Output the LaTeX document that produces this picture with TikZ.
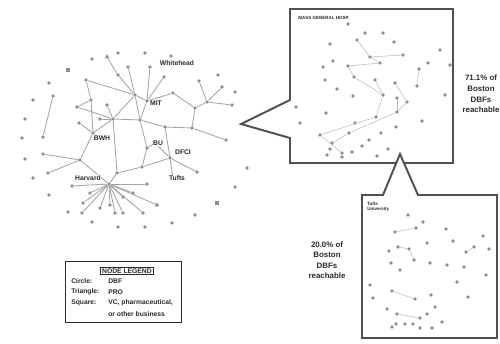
\documentclass[tikz,border=0pt]{standalone}
\usepackage{fontspec}
\setmainfont{Liberation Sans}
\usetikzlibrary{shapes.geometric}
\definecolor{ng}{HTML}{8e8e8e}
\definecolor{eg}{HTML}{a4a4a4}
\definecolor{ki}{HTML}{2a2a2a}
\definecolor{kb}{HTML}{505050}

\tikzset{
  dbf/.style={circle,fill=ng,inner sep=0pt,minimum size=2.8pt},
  pro/.style={regular polygon,regular polygon sides=3,fill=ng,inner sep=0pt,minimum size=3.8pt},
  biz/.style={rectangle,fill=ng,inner sep=0pt,minimum size=2.6pt},
  tie/.style={eg,line width=0.6pt},
  faint/.style={eg!80,line width=0.35pt},
  orglabel/.style={fill=white,inner sep=0.4pt,text=ki,font=\bfseries\fontsize{4.8}{5}\selectfont},
  boxlabel/.style={text=ki,font=\bfseries\fontsize{3.2}{3.8}\selectfont,align=left,anchor=north west,inner sep=0pt},
  reach/.style={text=ki,font=\bfseries\fontsize{5.6}{7.5}\selectfont,align=center},
  legtext/.style={text=ki,font=\bfseries\fontsize{4.8}{6}\selectfont,anchor=west,inner sep=0pt},
  callout/.style={kb,line width=1.4pt,fill=white,line join=miter}
}

\begin{document}
\begin{tikzpicture}[x=0.025cm,y=-0.025cm]
  \fill[white] (0,0) rectangle (500,343);
  \useasboundingbox (0,0) rectangle (500,343);

  % Whole Boston network: hubs and their neighbours
  \foreach \n/\x/\y in {ha/109/184,hb/135/95,hc/147/101,hd/113/119,he/93/133,hf/80/160,
      hg/117/173,hh/155/143,hi/170/158,hj/142/167,hk/147/148,hl/140/120,hm/165/127,
      hn/173/93,ho/195/108,hp/192/128,hq/207/102,hr/226/140,hs/197/172,ht/53/96,
      hu/43/154,hv/48/173,hw/77/107,hx/173/178,
      a1/90/193,a2/83/203,a3/82/213,a4/100/208,a5/110/205,a6/115/213,a7/123/213,
      a8/123/197,a9/133/193,a10/147/184,a11/72/186,a12/143/213,
      c1/128/67,c2/150/67,c3/118/75,c4/164/77,c5/86/80,
      q1/199/81,q2/222/87,q3/232/105,w1/91/100,w2/79/123,w3/100/119,w4/107/105,t2/43/137}
    \node[dbf] (\n) at (\x,\y) {};

  % a few organisations of other kinds
  \node[pro] (hpro1) at (157,205) {};
  \node[pro] (hpro2) at (107,57) {};
  \node[biz] (hbiz1) at (217,203) {};
  \node[biz] (hbiz2) at (68,70) {};

  % Isolated nodes round the rim
  \foreach \x/\y [count=\i] in {118/53,145/53,92/59,171/56,49/83,33/100,25/119,22/138,
      25/159,33/178,49/195,68/212,92/222,118/227,145/227,172/223,195/215,235/187,
      247/168,235/92,218/75}
    \node[dbf] (iso\i) at (\x,\y) {};

  % Ties
  \foreach \s in {a1,a2,a3,a4,a5,a6,a7,a8,a9,a10,a11,a12,hf,hg,hpro1}
    \draw[tie] (ha) -- (\s);
  \foreach \s/\t in {hb/c1,hb/c3,hb/c5,hb/hc,hb/hd,hb/hl,hc/c2,hc/c4,hc/hl,hc/hn,
      hd/w4,hd/w3,hd/hg,hd/he,hd/hl,hd/hw,he/w2,he/hf,he/w1,hf/hv,hf/hu,hg/hj,hj/hk,
      hj/hi,hl/hk,hk/hh,hh/hi,hi/hm,hm/hl,hi/hx,hi/hs,hn/ho,ho/hp,ho/hq,hq/q1,hq/q2,
      hq/q3,hp/hr,hp/hm,ht/t2,hw/w1,c3/hpro2,c5/w1}
    \draw[tie] (\s) -- (\t);

  % Names of the main hubs
  \node[orglabel] (lwhite) at (177,63) {Whitehead};
  \node[orglabel] (lmit) at (156,103) {MIT};
  \node[orglabel] (lbwh) at (102,138) {BWH};
  \node[orglabel] (lbu) at (158,143) {BU};
  \node[orglabel] (ldfci) at (183,152) {DFCI};
  \node[orglabel] (lharv) at (88,178) {Harvard};
  \node[orglabel] (ltufts) at (177,178) {Tufts};

  % Callout 1: the hospital's reach
  \draw[callout] (290,9) -- (453,9) -- (453,163) -- (290,163) -- (290,138)
    -- (241,124) -- (290,100) -- cycle;
  \node[boxlabel] (lmgh) at (298,16) {MASS GENERAL HOSP.};
  \foreach \x/\y [count=\i] in {348/24,365/33,383/33,357/40,394/42,330/44,440/50,403/55,
      370/57,380/63,333/61,428/63,323/67,348/66,419/69,450/65,325/80,354/77,375/80,
      395/83,417/86,337/89,383/95,353/96,445/95,407/102,397/98,296/107,326/113,
      397/112,376/117,355/123,300/123,422/121,396/127,349/133,320/135,381/133,
      369/140,332/143,362/146,342/153,330/149,352/152,377/156,388/149,327/155,342/157}
    \node[dbf] (m\i) at (\x,\y) {};
  \foreach \s/\t in {9/8,9/10,10/14,14/18,18/23,23/31,31/37,37/42,
      19/23,20/26,26/30,30/36,36/40,4/9,15/21,27/30}
    \draw[faint] (m\s) -- (m\t);
  \node[reach] (r1) at (481,94) {71.1\% of\\Boston\\DBFs\\reachable};

  % Callout 2: the university's reach
  \draw[callout] (362,195) -- (383,195) -- (400,154) -- (418,195) -- (497,195)
    -- (497,338) -- (362,338) -- cycle;
  \node[boxlabel] (ltu) at (367,202) {Tufts\\University};
  \foreach \x/\y [count=\i] in {408/215,423/222,416/228,446/229,395/232,427/243,453/241,
      398/247,409/249,389/251,483/236,474/247,466/252,489/249,391/263,414/260,
      430/263,447/265,464/267,400/270,486/275,370/285,457/282,392/291,431/295,
      373/298,415/299,468/297,435/307,387/309,397/314,427/314,420/318,442/322,
      396/324,405/324,413/324,420/328,432/328,392/327}
    \node[dbf] (u\i) at (\x,\y) {};
  \foreach \s/\t in {3/5,8/9,9/16,12/13,24/27,31/33}
    \draw[faint] (u\s) -- (u\t);
  \node[reach] (r2) at (327,260) {20.0\% of\\Boston\\DBFs\\reachable};

  % Node legend
  \draw[ki,line width=0.6pt] (65,261) rectangle (181,322);
  \node[text=ki,font=\bfseries\fontsize{4.8}{6}\selectfont,draw=ki,line width=0.5pt,
    inner sep=1pt] (lhead) at (127,271) {NODE LEGEND};
  \node[legtext] (lc1) at (71,281) {Circle:};
  \node[legtext] (lc2) at (108,281) {DBF};
  \node[legtext] (lt1) at (71,292) {Triangle:};
  \node[legtext] (lt2) at (108,292) {PRO};
  \node[legtext] (ls1) at (71,303) {Square:};
  \node[legtext] (ls2) at (108,303) {VC, pharmaceutical,};
  \node[legtext] (ls3) at (108,314) {or other business};

\end{tikzpicture}
\end{document}
